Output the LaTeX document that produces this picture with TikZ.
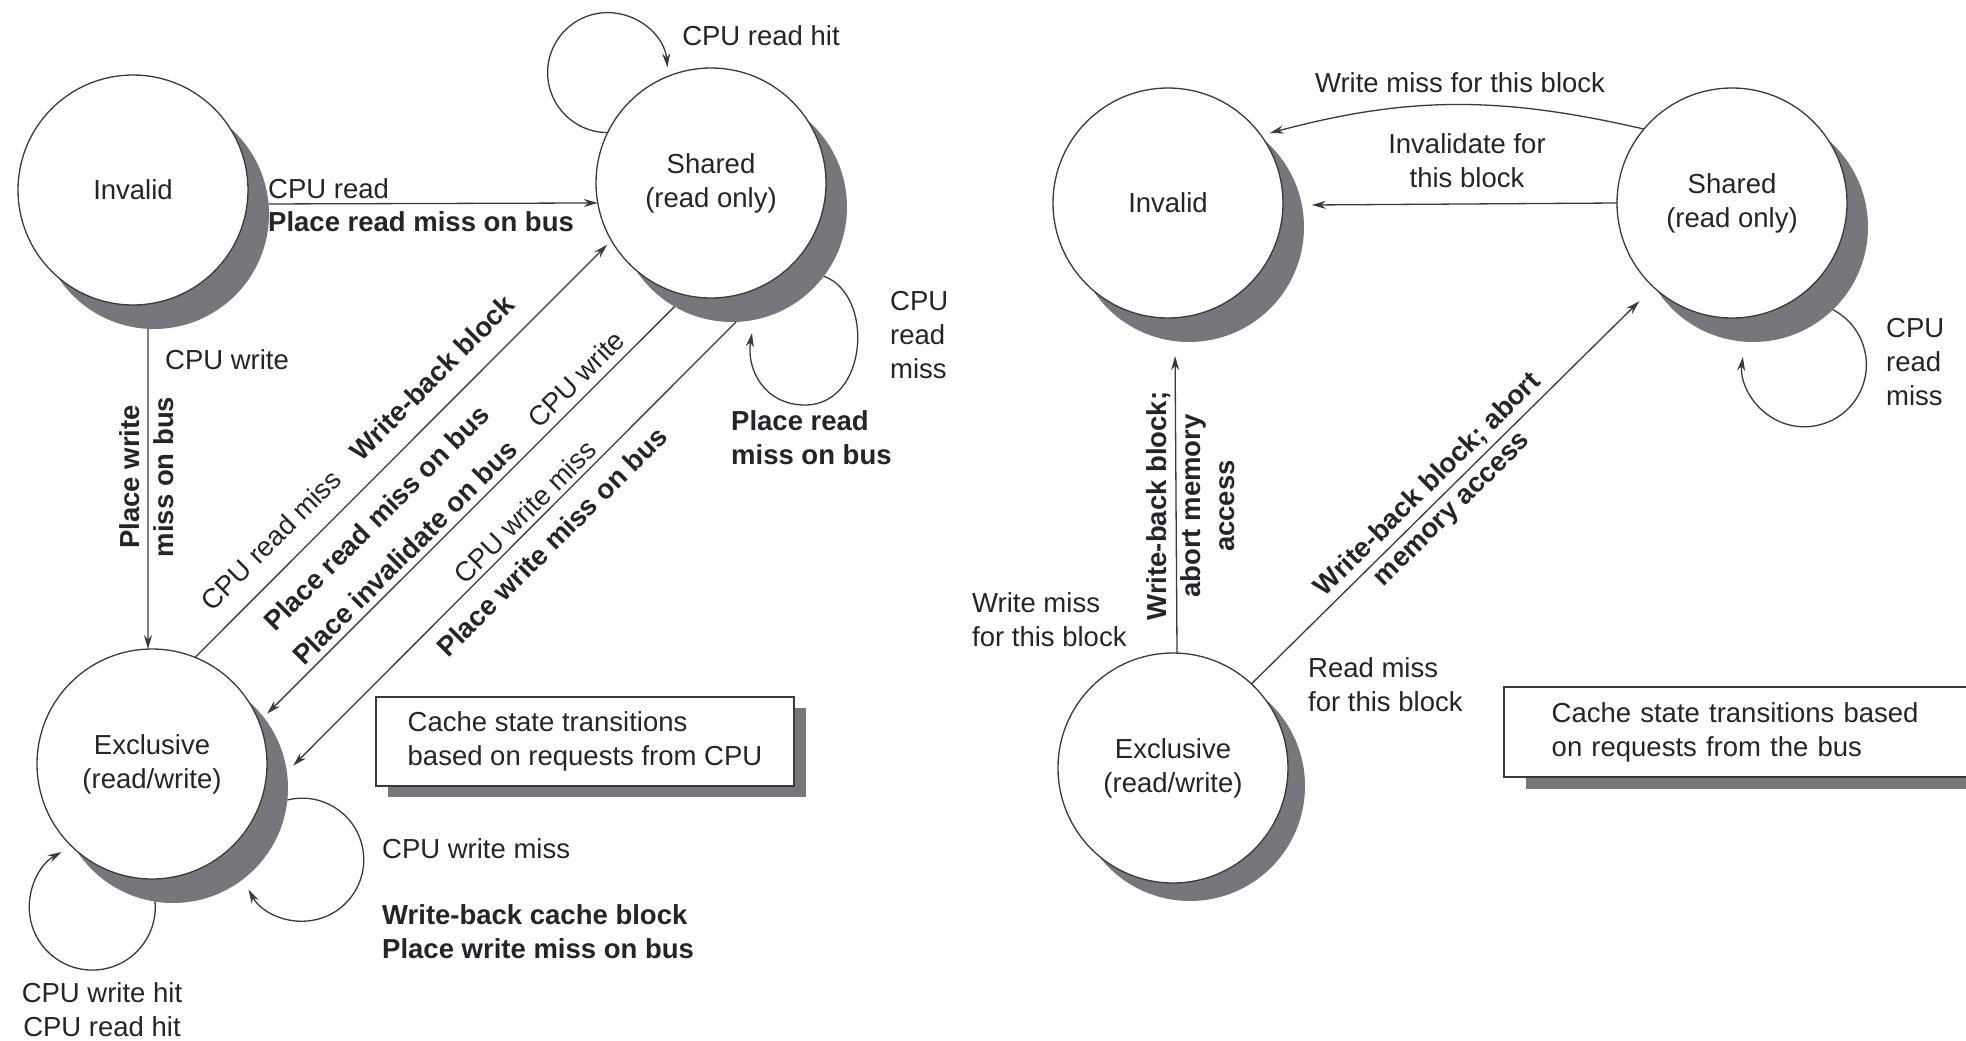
\documentclass[tikz,border=0pt]{standalone}
\usepackage{fontspec}
\setmainfont{Liberation Sans}
\usetikzlibrary{arrows.meta}
\definecolor{ink}{RGB}{36,36,42}
\definecolor{edgecol}{RGB}{58,58,62}
\definecolor{shadowgray}{RGB}{118,118,124}
\begin{document}
\begin{tikzpicture}[x=1pt,y=1pt,
  every node/.style={text=ink, font=\fontsize{27.5}{34}\selectfont, inner sep=0pt},
  bold/.style={font=\fontsize{27.5}{34}\selectfont\bfseries},
  statecircle/.style={circle, draw=edgecol, line width=1.3pt, fill=white,
    minimum size=230pt, inner sep=0pt, outer sep=0pt, align=center},
  stateshadow/.style={circle, fill=shadowgray, minimum size=230pt,
    inner sep=0pt, outer sep=0pt},
  trans/.style={draw=edgecol, line width=1.3pt, -{Stealth[length=14pt,width=8pt]}},
  notebox/.style={draw=edgecol, line width=1.3pt, fill=white, align=left, outer sep=0pt},
  boxshadow/.style={fill=shadowgray}
]
\useasboundingbox (0,0) rectangle (1966,-1041);
\fill[white] (0,0) rectangle (1966,-1041);

% ---------------- CPU side: shadows and states ----------------
\node[stateshadow] (I1s) at (154,-214) {};
\node[stateshadow] (S1s) at (732,-207) {};
\node[stateshadow] (E1s) at (173,-788) {};
\node[statecircle] (I1) at (133,-190) {Invalid};
\node[statecircle] (S1) at (711,-183) {Shared\\(read only)};
\node[statecircle] (E1) at (152,-764) {Exclusive\\(read/write)};

% CPU-side transitions
\draw[trans] (I1s.5) -- (S1.190.5);
\draw[trans] (I1s.267) -- (E1.92);
\draw[trans, shorten >=6pt] (E1.68) -- (S1.210);
\draw[trans, shorten >=5pt] (S1s.240) -- (E1s.38);
\draw[trans, shorten >=9pt] (S1s.272.5) -- (E1s.8);
% self loops
\draw[trans] (S1.154.3) arc[start angle=270, end angle=5, radius=60];
\draw[trans] (S1s.-37) .. controls (875,-295) and (868,-405) .. (805,-405)
  .. controls (765,-405) and (746,-370) .. (752,-333);
\draw[trans] (E1s.261.4) arc[start angle=5, end angle=-241, radius=63];
\draw[trans] (E1s.-6) arc[start angle=104, end angle=-151, radius=61.5];

% CPU-side labels
\node[anchor=west] (tCPUread) at (268,-189) {CPU read};
\node[bold, anchor=west] (tPRM1) at (268,-222) {Place read miss on bus};
\node[anchor=west] (tCPUwrite) at (165,-360) {CPU write};
\node[bold, rotate=90, align=center] (tPWM1) at (147,-477) {Place write\\miss on bus};
\node[rotate=45] (tCRM) at (271,-540) {CPU read miss};
\node[bold, rotate=45] (tWBB) at (432,-377.5) {Write-back block};
\node[bold, rotate=45] (tPRM2) at (376.5,-517.6) {Place read miss on bus};
\node[bold, rotate=45] (tPIB) at (405,-552.5) {Place invalidate on bus};
\node[rotate=45] (tCW) at (576,-379) {CPU write};
\node[rotate=45] (tCWM) at (525,-511.7) {CPU write miss};
\node[bold, rotate=45] (tPWM2) at (551.7,-541.7) {Place write miss on bus};
\node (tCRH) at (761,-36) {CPU read hit};
\node[anchor=west, align=left] (tSmiss) at (890,-335) {CPU\\read\\miss};
\node[bold, anchor=west, align=left] (tSplace) at (731,-437.5) {Place read\\miss on bus};
\node[align=center] (tEhit) at (102,-1009.5) {CPU write hit\\CPU read hit};
\node[anchor=west] (tEmiss) at (382,-849) {CPU write miss};
\node[bold, anchor=west, align=left] (tEwb) at (382,-932) {Write-back cache block\\Place write miss on bus};

% CPU-side caption box
\fill[boxshadow] (388,-708) rectangle (806,-797);
\node[notebox, anchor=north west, minimum width=418pt, minimum height=89pt]
  (box1) at (376,-697) {Cache state transitions\\based on requests from CPU};

% ---------------- Bus side: shadows and states ----------------
\node[stateshadow] (I2s) at (1189,-227) {};
\node[stateshadow] (S2s) at (1753,-227) {};
\node[stateshadow] (E2s) at (1190,-786) {};
\node[statecircle] (I2) at (1168,-203) {Invalid};
\node[statecircle] (S2) at (1732,-203) {Shared\\(read only)};
\node[statecircle] (E2) at (1173,-768) {Exclusive\\(read/write)};

% Bus-side transitions
\draw[trans, shorten >=9pt] (S2.140) to[bend right=14] (I2.36);
\draw[trans, shorten >=10pt] (S2.180.5) -- (I2s.11.5);
\draw[trans, shorten >=15pt] (E2.88.5) -- (I2s.263.5);
\draw[trans, shorten >=20pt] (E2.47.7) -- (S2.227)
  node[bold, pos=0.47, sloped, align=center] (tWBA) {Write-back block; abort\\memory access};
\draw[trans] (S2s.-46) arc[start angle=62.6, end angle=-187.3, radius=62];

% Bus-side labels
\node (tWMB) at (1460,-82.5) {Write miss for this block};
\node[align=center] (tIFB) at (1467,-161) {Invalidate for\\this block};
\node[bold, rotate=90, align=center] (tWBV) at (1191,-506) {Write-back block;\\abort memory\\access};
\node[anchor=west, align=left] (tWMB2) at (972,-619.5) {Write miss\\for this block};
\node[anchor=west, align=left] (tRMB) at (1308,-685) {Read miss\\for this block};
\node[anchor=west, align=left] (tRCPU) at (1886,-362) {CPU\\read\\miss};

% Bus-side caption box
\fill[boxshadow] (1526,-699) rectangle (1990,-789);
\node[notebox, anchor=north west, text width=376pt, inner xsep=47.7pt, inner ysep=0pt,
  minimum height=90pt] (box2) at (1504,-687) {Cache state transitions based\\on requests from the bus};
\end{tikzpicture}
\end{document}
